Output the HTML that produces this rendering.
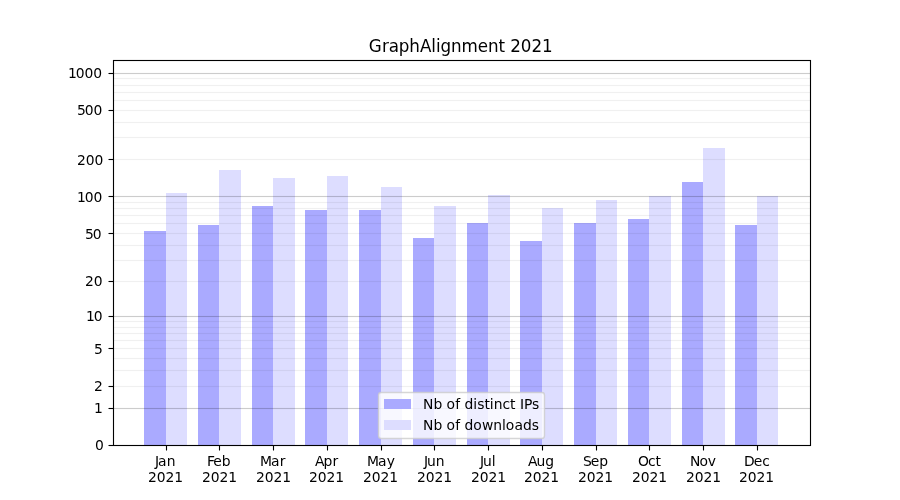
<!DOCTYPE html>
<html lang="en">
<head>
<meta charset="utf-8">
<title>GraphAlignment 2021</title>
<style>
html,body{margin:0;padding:0;background:#fff;}
body{width:900px;height:500px;overflow:hidden;}
svg{display:block;}
text{font-family:"DejaVu Sans","Liberation Sans",sans-serif;fill:#000;}
.t10{font-size:13.8889px;}
.t12{font-size:16.74px;}
.a{fill:#aaaaff;}
.b{fill:#ddddff;}
.k{stroke:#000;stroke-width:1.1111;fill:none;}
</style>
</head>
<body>
<svg width="900" height="500" viewBox="0 0 900 500">
<rect x="0" y="0" width="900" height="500" fill="#ffffff"/>
<g shape-rendering="crispEdges">
<rect class="a" x="144" y="231" width="22" height="214"/>
<rect class="b" x="166" y="193" width="21" height="252"/>
<rect class="a" x="198" y="225" width="21" height="220"/>
<rect class="b" x="219" y="170" width="22" height="275"/>
<rect class="a" x="252" y="206" width="21" height="239"/>
<rect class="b" x="273" y="178" width="22" height="267"/>
<rect class="a" x="305" y="210" width="22" height="235"/>
<rect class="b" x="327" y="176" width="21" height="269"/>
<rect class="a" x="359" y="210" width="22" height="235"/>
<rect class="b" x="381" y="187" width="21" height="258"/>
<rect class="a" x="413" y="238" width="21" height="207"/>
<rect class="b" x="434" y="206" width="22" height="239"/>
<rect class="a" x="467" y="223" width="21" height="222"/>
<rect class="b" x="488" y="195" width="22" height="250"/>
<rect class="a" x="520" y="241" width="22" height="204"/>
<rect class="b" x="542" y="208" width="21" height="237"/>
<rect class="a" x="574" y="223" width="22" height="222"/>
<rect class="b" x="596" y="200" width="21" height="245"/>
<rect class="a" x="628" y="219" width="21" height="226"/>
<rect class="b" x="649" y="196" width="22" height="249"/>
<rect class="a" x="682" y="182" width="21" height="263"/>
<rect class="b" x="703" y="148" width="22" height="297"/>
<rect class="a" x="735" y="225" width="22" height="220"/>
<rect class="b" x="757" y="196" width="21" height="249"/>
</g>
<g shape-rendering="crispEdges">
<rect x="113" y="73" width="697" height="1" fill="#000" fill-opacity="0.2"/>
<rect x="113" y="72" width="697" height="1" fill="#000" fill-opacity="0.0111"/>
<rect x="113" y="74" width="697" height="1" fill="#000" fill-opacity="0.0111"/>
<rect x="113" y="196" width="697" height="1" fill="#000" fill-opacity="0.2"/>
<rect x="113" y="195" width="697" height="1" fill="#000" fill-opacity="0.0111"/>
<rect x="113" y="197" width="697" height="1" fill="#000" fill-opacity="0.0111"/>
<rect x="113" y="316" width="697" height="1" fill="#000" fill-opacity="0.2"/>
<rect x="113" y="315" width="697" height="1" fill="#000" fill-opacity="0.0111"/>
<rect x="113" y="317" width="697" height="1" fill="#000" fill-opacity="0.0111"/>
<rect x="113" y="408" width="697" height="1" fill="#000" fill-opacity="0.2"/>
<rect x="113" y="407" width="697" height="1" fill="#000" fill-opacity="0.0111"/>
<rect x="113" y="409" width="697" height="1" fill="#000" fill-opacity="0.0111"/>
<rect x="113" y="78" width="697" height="1" fill="#000" fill-opacity="0.06"/>
<rect x="113" y="77" width="697" height="1" fill="#000" fill-opacity="0.0033"/>
<rect x="113" y="79" width="697" height="1" fill="#000" fill-opacity="0.0033"/>
<rect x="113" y="85" width="697" height="1" fill="#000" fill-opacity="0.06"/>
<rect x="113" y="84" width="697" height="1" fill="#000" fill-opacity="0.0033"/>
<rect x="113" y="86" width="697" height="1" fill="#000" fill-opacity="0.0033"/>
<rect x="113" y="92" width="697" height="1" fill="#000" fill-opacity="0.06"/>
<rect x="113" y="91" width="697" height="1" fill="#000" fill-opacity="0.0033"/>
<rect x="113" y="93" width="697" height="1" fill="#000" fill-opacity="0.0033"/>
<rect x="113" y="100" width="697" height="1" fill="#000" fill-opacity="0.06"/>
<rect x="113" y="99" width="697" height="1" fill="#000" fill-opacity="0.0033"/>
<rect x="113" y="101" width="697" height="1" fill="#000" fill-opacity="0.0033"/>
<rect x="113" y="110" width="697" height="1" fill="#000" fill-opacity="0.06"/>
<rect x="113" y="109" width="697" height="1" fill="#000" fill-opacity="0.0033"/>
<rect x="113" y="111" width="697" height="1" fill="#000" fill-opacity="0.0033"/>
<rect x="113" y="122" width="697" height="1" fill="#000" fill-opacity="0.06"/>
<rect x="113" y="121" width="697" height="1" fill="#000" fill-opacity="0.0033"/>
<rect x="113" y="123" width="697" height="1" fill="#000" fill-opacity="0.0033"/>
<rect x="113" y="137" width="697" height="1" fill="#000" fill-opacity="0.06"/>
<rect x="113" y="136" width="697" height="1" fill="#000" fill-opacity="0.0033"/>
<rect x="113" y="138" width="697" height="1" fill="#000" fill-opacity="0.0033"/>
<rect x="113" y="159" width="697" height="1" fill="#000" fill-opacity="0.06"/>
<rect x="113" y="158" width="697" height="1" fill="#000" fill-opacity="0.0033"/>
<rect x="113" y="160" width="697" height="1" fill="#000" fill-opacity="0.0033"/>
<rect x="113" y="202" width="697" height="1" fill="#000" fill-opacity="0.06"/>
<rect x="113" y="201" width="697" height="1" fill="#000" fill-opacity="0.0033"/>
<rect x="113" y="203" width="697" height="1" fill="#000" fill-opacity="0.0033"/>
<rect x="113" y="208" width="697" height="1" fill="#000" fill-opacity="0.06"/>
<rect x="113" y="207" width="697" height="1" fill="#000" fill-opacity="0.0033"/>
<rect x="113" y="209" width="697" height="1" fill="#000" fill-opacity="0.0033"/>
<rect x="113" y="215" width="697" height="1" fill="#000" fill-opacity="0.06"/>
<rect x="113" y="214" width="697" height="1" fill="#000" fill-opacity="0.0033"/>
<rect x="113" y="216" width="697" height="1" fill="#000" fill-opacity="0.0033"/>
<rect x="113" y="223" width="697" height="1" fill="#000" fill-opacity="0.06"/>
<rect x="113" y="222" width="697" height="1" fill="#000" fill-opacity="0.0033"/>
<rect x="113" y="224" width="697" height="1" fill="#000" fill-opacity="0.0033"/>
<rect x="113" y="233" width="697" height="1" fill="#000" fill-opacity="0.06"/>
<rect x="113" y="232" width="697" height="1" fill="#000" fill-opacity="0.0033"/>
<rect x="113" y="234" width="697" height="1" fill="#000" fill-opacity="0.0033"/>
<rect x="113" y="245" width="697" height="1" fill="#000" fill-opacity="0.06"/>
<rect x="113" y="244" width="697" height="1" fill="#000" fill-opacity="0.0033"/>
<rect x="113" y="246" width="697" height="1" fill="#000" fill-opacity="0.0033"/>
<rect x="113" y="260" width="697" height="1" fill="#000" fill-opacity="0.06"/>
<rect x="113" y="259" width="697" height="1" fill="#000" fill-opacity="0.0033"/>
<rect x="113" y="261" width="697" height="1" fill="#000" fill-opacity="0.0033"/>
<rect x="113" y="281" width="697" height="1" fill="#000" fill-opacity="0.06"/>
<rect x="113" y="280" width="697" height="1" fill="#000" fill-opacity="0.0033"/>
<rect x="113" y="282" width="697" height="1" fill="#000" fill-opacity="0.0033"/>
<rect x="113" y="321" width="697" height="1" fill="#000" fill-opacity="0.06"/>
<rect x="113" y="320" width="697" height="1" fill="#000" fill-opacity="0.0033"/>
<rect x="113" y="322" width="697" height="1" fill="#000" fill-opacity="0.0033"/>
<rect x="113" y="327" width="697" height="1" fill="#000" fill-opacity="0.06"/>
<rect x="113" y="326" width="697" height="1" fill="#000" fill-opacity="0.0033"/>
<rect x="113" y="328" width="697" height="1" fill="#000" fill-opacity="0.0033"/>
<rect x="113" y="333" width="697" height="1" fill="#000" fill-opacity="0.06"/>
<rect x="113" y="332" width="697" height="1" fill="#000" fill-opacity="0.0033"/>
<rect x="113" y="334" width="697" height="1" fill="#000" fill-opacity="0.0033"/>
<rect x="113" y="340" width="697" height="1" fill="#000" fill-opacity="0.06"/>
<rect x="113" y="339" width="697" height="1" fill="#000" fill-opacity="0.0033"/>
<rect x="113" y="341" width="697" height="1" fill="#000" fill-opacity="0.0033"/>
<rect x="113" y="348" width="697" height="1" fill="#000" fill-opacity="0.06"/>
<rect x="113" y="347" width="697" height="1" fill="#000" fill-opacity="0.0033"/>
<rect x="113" y="349" width="697" height="1" fill="#000" fill-opacity="0.0033"/>
<rect x="113" y="358" width="697" height="1" fill="#000" fill-opacity="0.06"/>
<rect x="113" y="357" width="697" height="1" fill="#000" fill-opacity="0.0033"/>
<rect x="113" y="359" width="697" height="1" fill="#000" fill-opacity="0.0033"/>
<rect x="113" y="370" width="697" height="1" fill="#000" fill-opacity="0.06"/>
<rect x="113" y="369" width="697" height="1" fill="#000" fill-opacity="0.0033"/>
<rect x="113" y="371" width="697" height="1" fill="#000" fill-opacity="0.0033"/>
<rect x="113" y="386" width="697" height="1" fill="#000" fill-opacity="0.06"/>
<rect x="113" y="385" width="697" height="1" fill="#000" fill-opacity="0.0033"/>
<rect x="113" y="387" width="697" height="1" fill="#000" fill-opacity="0.0033"/>
</g>
<g class="k">
<line x1="166.5" x2="166.5" y1="445.5" y2="450.5"/>
<line x1="219.5" x2="219.5" y1="445.5" y2="450.5"/>
<line x1="273.5" x2="273.5" y1="445.5" y2="450.5"/>
<line x1="327.5" x2="327.5" y1="445.5" y2="450.5"/>
<line x1="381.5" x2="381.5" y1="445.5" y2="450.5"/>
<line x1="434.5" x2="434.5" y1="445.5" y2="450.5"/>
<line x1="488.5" x2="488.5" y1="445.5" y2="450.5"/>
<line x1="542.5" x2="542.5" y1="445.5" y2="450.5"/>
<line x1="596.5" x2="596.5" y1="445.5" y2="450.5"/>
<line x1="649.5" x2="649.5" y1="445.5" y2="450.5"/>
<line x1="703.5" x2="703.5" y1="445.5" y2="450.5"/>
<line x1="757.5" x2="757.5" y1="445.5" y2="450.5"/>
<line x1="108.5" x2="113.5" y1="445.5" y2="445.5"/>
<line x1="108.5" x2="113.5" y1="408.5" y2="408.5"/>
<line x1="108.5" x2="113.5" y1="386.5" y2="386.5"/>
<line x1="108.5" x2="113.5" y1="348.5" y2="348.5"/>
<line x1="108.5" x2="113.5" y1="316.5" y2="316.5"/>
<line x1="108.5" x2="113.5" y1="281.5" y2="281.5"/>
<line x1="108.5" x2="113.5" y1="233.5" y2="233.5"/>
<line x1="108.5" x2="113.5" y1="196.5" y2="196.5"/>
<line x1="108.5" x2="113.5" y1="159.5" y2="159.5"/>
<line x1="108.5" x2="113.5" y1="110.5" y2="110.5"/>
<line x1="108.5" x2="113.5" y1="73.5" y2="73.5"/>
<rect x="113.5" y="60.5" width="697" height="385"/>
</g>
<g>
<text class="t10" x="155 157.875 166.625" y="466">Jan</text>
<text class="t10" x="148 156.75 165.5 174.25" y="482">2021</text>
<text class="t10" x="207 213.25 221.75" y="466">Feb</text>
<text class="t10" x="202 210.75 219.5 228.25" y="482">2021</text>
<text class="t10" x="260 270.875 279.625" y="466">Mar</text>
<text class="t10" x="256 264.75 273.5 282.25" y="482">2021</text>
<text class="t10" x="315 323.375 332.375" y="466">Apr</text>
<text class="t10" x="309 317.75 326.5 335.25" y="482">2021</text>
<text class="t10" x="367 378 386.625" y="466">May</text>
<text class="t10" x="363 371.75 380.5 389.25" y="482">2021</text>
<text class="t10" x="424 427 435.75" y="466">Jun</text>
<text class="t10" x="417 425.75 434.5 443.25" y="482">2021</text>
<text class="t10" x="480 483 491.75" y="466">Jul</text>
<text class="t10" x="471 479.75 488.5 497.25" y="482">2021</text>
<text class="t10" x="528 536.5 545.25" y="466">Aug</text>
<text class="t10" x="524 532.75 541.5 550.25" y="482">2021</text>
<text class="t10" x="583 590.75 599.25" y="466">Sep</text>
<text class="t10" x="578 586.75 595.5 604.25" y="482">2021</text>
<text class="t10" x="637.875 647.875 655.375" y="466">Oct</text>
<text class="t10" x="632 640.75 649.5 658.25" y="482">2021</text>
<text class="t10" x="689.875 699.375 707.625" y="466">Nov</text>
<text class="t10" x="686 694.75 703.5 712.25" y="482">2021</text>
<text class="t10" x="744 753.75 762.25" y="466">Dec</text>
<text class="t10" x="739 747.75 756.5 765.25" y="482">2021</text>
<text class="t10" x="95" y="450">0</text>
<text class="t10" x="94" y="413">1</text>
<text class="t10" x="94" y="391">2</text>
<text class="t10" x="94" y="354">5</text>
<text class="t10" x="86 93.625" y="321">10</text>
<text class="t10" x="85 93.75" y="286">20</text>
<text class="t10" x="85 92.75" y="239">50</text>
<text class="t10" x="77 84.625 93.375" y="202">100</text>
<text class="t10" x="77 85.75 94.5" y="165">200</text>
<text class="t10" x="77 84.75 93.5" y="115">500</text>
<text class="t10" x="68 75.625 84.375 93.125" y="78">1000</text>
<text class="t12" x="368.75 381.875 388.75 398.625 409.125 419.875 431.125 435.875 440.375 451 461.5 477.75 488 498.5 505 510.25 520.625 531.375 542" y="52">GraphAlignment 2021</text>
</g>
<g>
<rect x="378.5" y="392.5" width="166" height="46" rx="2.78" ry="2.78" fill="#ffffff" fill-opacity="0.8" stroke="#cccccc" stroke-opacity="0.8" stroke-width="1.3889"/>
<g shape-rendering="crispEdges"><rect class="a" x="384" y="399" width="27" height="10"/>
<rect class="b" x="384" y="420" width="27" height="10"/></g>
<text class="t10" x="422.875 433.375 442.25 446.375 455.125 460.125 464.5 473.125 477.125 484.375 489.75 493.75 502.375 510 515.5 520 523.875 532" y="409">Nb of distinct IPs</text>
<text class="t10" x="422.875 433.375 442.25 446.375 455.125 460.125 464.5 473.125 481.875 493.25 502 505.75 514.375 522.875 531.75" y="430">Nb of downloads</text>
</g>
</svg>
</body>
</html>
